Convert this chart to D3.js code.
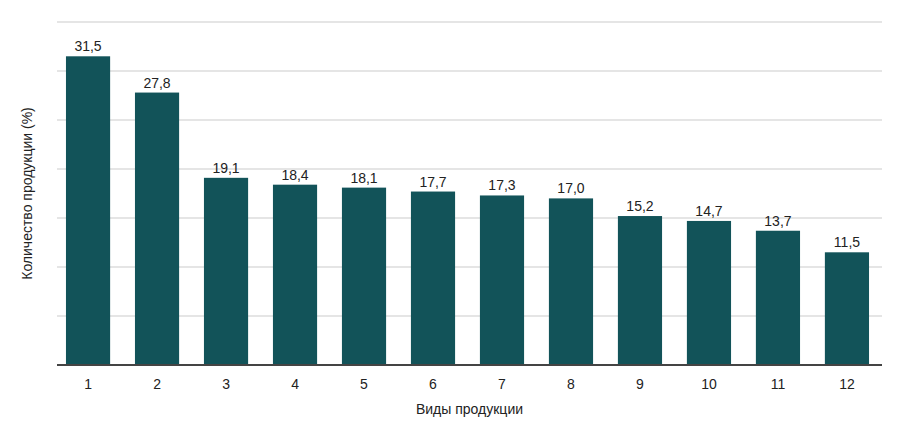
<!DOCTYPE html>
<html>
<head>
<meta charset="utf-8">
<script src="https://cdn.jsdelivr.net/npm/d3@7"></script>
<style>
  body { margin: 0; background: #fff; }
  text { font-family: "Liberation Sans", Arial, sans-serif; fill: #222; }
</style>
</head>
<body>
<div id="chart"></div>
<script>
// виды продукции и их доли
var categories = ["1", "2", "3", "4", "5", "6", "7", "8", "9", "10", "11", "12"];
var values = [31.5, 27.8, 19.1, 18.4, 18.1, 17.7, 17.3, 17.0, 15.2, 14.7, 13.7, 11.5];
var yTicks = [0, 5, 10, 15, 20, 25, 30, 35];
var xTitle = "Виды продукции";
var yTitle = "Количество продукции (%)";

var W = 906, H = 426,
    margin = {top: 22, right: 24, bottom: 61, left: 57},
    BAR = "#125359";

var svg = d3.select("#chart")
    .append("svg")
    .attr("width", W)
    .attr("height", H);

var x = d3.scaleBand()
    .domain(categories)
    .range([margin.left, W - margin.right - 4])
    .paddingInner(0.36)
    .paddingOuter(0.13);

var y = d3.scaleLinear()
    .domain([0, 35])
    .range([H - margin.bottom, margin.top]);

function fmt(v) {
    return v.toFixed(1).replace(".", ",");
}

// сетка
svg.append("g")
    .selectAll("line")
    .data(yTicks.slice(1))
    .enter().append("line")
    .attr("x1", margin.left)
    .attr("x2", W - margin.right)
    .attr("y1", function(d){return y(d);})
    .attr("y2", function(d){return y(d);})
    .attr("stroke", "#dcdcdc")
    .attr("stroke-width", 1.5);

// столбцы
svg.append("g")
    .selectAll("rect")
    .data(values)
    .enter().append("rect")
    .attr("x", function(d, i){return x(categories[i]);})
    .attr("y", function(d){return y(d);})
    .attr("width", x.bandwidth())
    .attr("height", function(d){return y(0) - y(d);})
    .style("fill", BAR);

// подписи значений
svg.append("g")
    .selectAll("text")
    .data(values)
    .enter().append("text")
    .attr("x", function(d, i){return x(categories[i]) + x.bandwidth() / 2;})
    .attr("y", function(d){return y(d) - 5;})
    .attr("text-anchor", "middle")
    .style("font-size", "14px")
    .text(function(d){return fmt(d);});

// ось X
var xAxis = svg.append("g")
    .attr("transform", "translate(0," + y(0) + ")")
    .call(d3.axisBottom(x).tickSize(0).tickPadding(14));
xAxis.select(".domain").remove();
xAxis.selectAll("text")
    .style("font-size", "14px")
    .style("font-family", "'Liberation Sans', Arial, sans-serif")
    .attr("fill", "#222");

svg.append("line")
    .attr("x1", margin.left)
    .attr("x2", W - margin.right)
    .attr("y1", y(0))
    .attr("y2", y(0))
    .attr("stroke", "#444")
    .attr("stroke-width", 2);

// подписи осей
svg.append("text")
    .attr("x", (margin.left + W - margin.right) / 2)
    .attr("y", H - 12)
    .attr("text-anchor", "middle")
    .style("font-size", "14px")
    .text(xTitle);

svg.append("text")
    .attr("transform", "translate(32," + (y(0) + y(35)) / 2 + ") rotate(-90)")
    .attr("text-anchor", "middle")
    .style("font-size", "14px")
    .text(yTitle);
</script>
</body>
</html>
